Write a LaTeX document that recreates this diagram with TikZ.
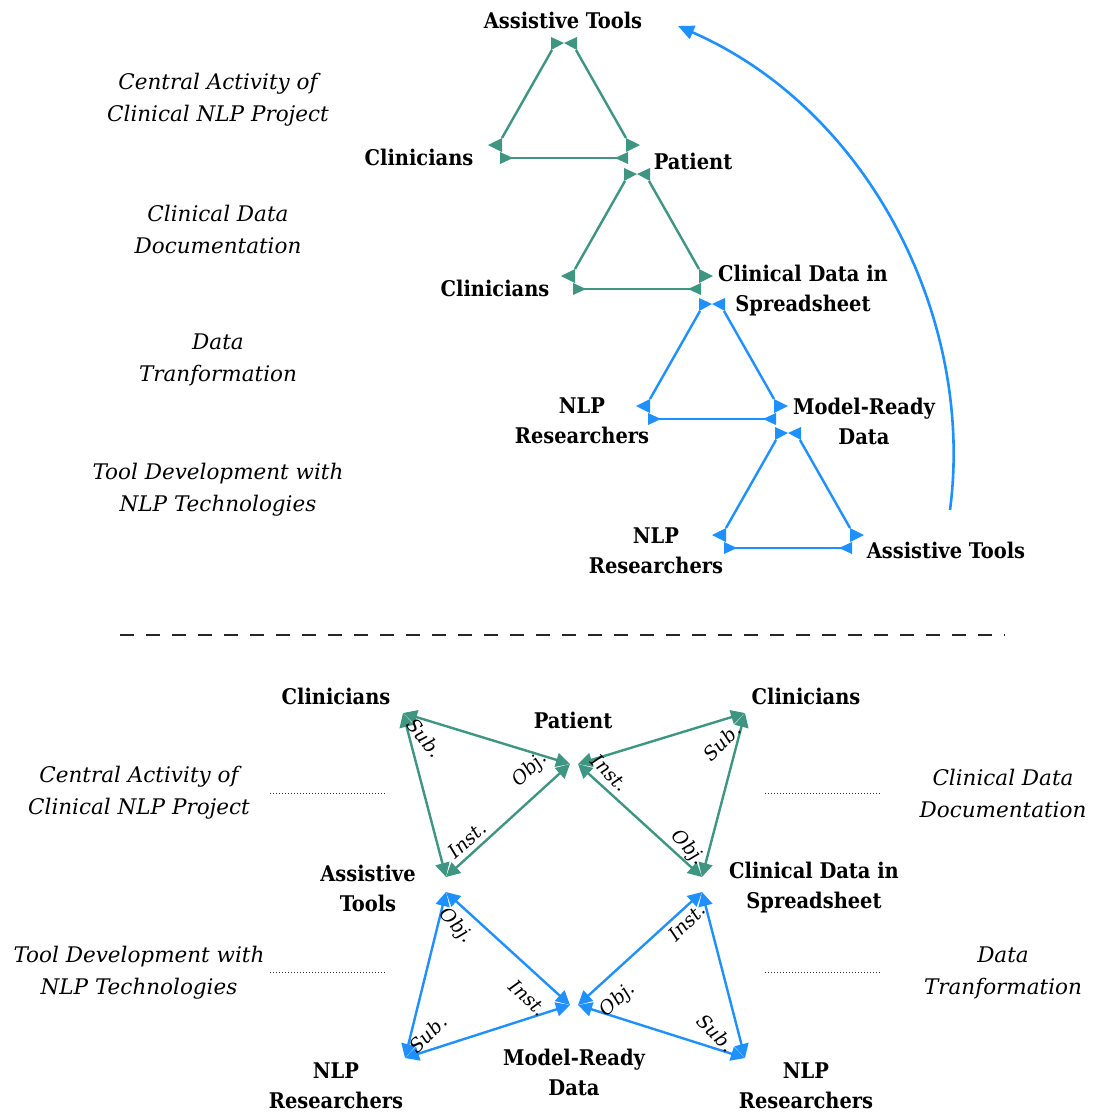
\documentclass[tikz,border=0pt]{standalone}
\usepackage{fontspec}
\setmainfont{DejaVu Serif}
\newfontfamily\labfont{DejaVu Serif Condensed}
\usetikzlibrary{arrows.meta,calc}
\definecolor{grn}{HTML}{3E9682}
\definecolor{blu}{HTML}{1E90FF}
\tikzset{
  lab/.style={font=\labfont\bfseries\fontsize{21.6}{30}\selectfont, align=center, inner sep=0pt},
  ital/.style={font=\itshape\fontsize{21.5}{32}\selectfont, align=center, inner sep=0pt},
  rl/.style={font=\itshape\fontsize{19}{20}\selectfont, inner sep=0pt},
  edge/.style={line width=2.4pt},
  bedge/.style={line width=2.4pt, {Triangle[length=14pt,width=14pt]}-{Triangle[length=14pt,width=14pt]}},
  dotline/.style={line width=0.9pt, dash pattern=on 1.4pt off 1.6pt, black!80},
  toptri/.pic={
    \coordinate (-t) at (0,0);
    \coordinate (-la) at (-12,7); \coordinate (-lb) at (-62,95);
    \coordinate (-ra) at (12,7);  \coordinate (-rb) at (62,95);
    \coordinate (-ha) at (-63,115); \coordinate (-hb) at (63,115);
    \draw[edge,#1] (-la) -- (-lb);
    \draw[edge,#1] (-ra) -- (-rb);
    \draw[edge,#1] (-ha) -- (-hb);
    \fill[#1] (-13,-6) -- (-13,7) -- (0,0) -- cycle;
    \fill[#1] (13,-6) -- (13,7) -- (0,0) -- cycle;
    \fill[#1] (-62,95) -- (-62,109) -- (-76,102) -- cycle;
    \fill[#1] (-64,109) -- (-64,121) -- (-51,115) -- cycle;
    \fill[#1] (62,95) -- (62,109) -- (76,102) -- cycle;
    \fill[#1] (64,109) -- (64,121) -- (51,115) -- cycle;
  }
}
\begin{document}
\begin{tikzpicture}[x=1pt,y=-1pt]
\useasboundingbox[fill=white] (0,0) rectangle (1095,1112);

% ---------- top part ----------
\pic (tA) at (564,43) {toptri=grn};
\pic (tB) at (637,174) {toptri=grn};
\pic (tC) at (712,304) {toptri=blu};
\pic (tD) at (788,433) {toptri=blu};

\coordinate (arcS) at (950,510);
\coordinate (arcE) at (678,26);
\draw[blu,line width=2.6pt,-{Triangle[length=16pt,width=14pt]}] (arcS) .. controls (975,320) and (870,110) .. (arcE);

\node[lab] (l1) at (563,20) {Assistive Tools};
\node[lab] (l2) at (419,157) {Clinicians};
\node[lab] (l3) at (693,161) {Patient};
\node[lab] (l4) at (495,288) {Clinicians};
\node[lab] (l5) at (803,291) {Clinical Data in\\Spreadsheet};
\node[lab] (l6) at (582,421) {NLP\\Researchers};
\node[lab] (l7) at (864,421) {Model-Ready\\Data};
\node[lab] (l8) at (656,551) {NLP\\Researchers};
\node[lab] (l9) at (946,550) {Assistive Tools};

\node[ital] (i1) at (218,100) {Central Activity of\\Clinical NLP Project};
\node[ital] (i2) at (218,229) {Clinical Data\\Documentation};
\node[ital] (i3) at (218,360) {Data\\Tranformation};
\node[ital] (i4) at (218,490) {Tool Development with\\NLP Technologies};

% ---------- separator ----------
\coordinate (sepL) at (120,635);
\coordinate (sepR) at (1005,635);
\draw[line width=1.8pt, dash pattern=on 14pt off 12pt, black!85] (sepL) -- (sepR);

% ---------- bottom part ----------
\coordinate (c1) at (403,713); \coordinate (p1) at (570,764); \coordinate (a1) at (446,877);
\coordinate (c2) at (745,713); \coordinate (p2) at (578,764); \coordinate (d2) at (702,877);
\coordinate (a3) at (446,892); \coordinate (m3) at (570,1005); \coordinate (n3) at (405,1058);
\coordinate (d4) at (702,892); \coordinate (m4) at (578,1005); \coordinate (n4) at (745,1058);

\draw[bedge,grn] (c1) -- (p1);
\draw[bedge,grn] (p1) -- (a1);
\draw[bedge,grn] (a1) -- (c1);
\draw[bedge,grn] (c2) -- (p2);
\draw[bedge,grn] (p2) -- (d2);
\draw[bedge,grn] (d2) -- (c2);
\draw[bedge,blu] (a3) -- (m3);
\draw[bedge,blu] (m3) -- (n3);
\draw[bedge,blu] (n3) -- (a3);
\draw[bedge,blu] (d4) -- (m4);
\draw[bedge,blu] (m4) -- (n4);
\draw[bedge,blu] (n4) -- (d4);

\node[rl,rotate=-50] (s1) at (425,738) {Sub.};
\node[rl,rotate=45]  (o1) at (530,770) {Obj.};
\node[rl,rotate=42]  (n1) at (467,840) {Inst.};
\node[rl,rotate=45]  (s2) at (722,742) {Sub.};
\node[rl,rotate=-45] (n2) at (610,773) {Inst.};
\node[rl,rotate=-48] (o2) at (688,848) {Obj.};
\node[rl,rotate=-48] (o3) at (456,926) {Obj.};
\node[rl,rotate=-43] (n3l) at (528,998) {Inst.};
\node[rl,rotate=45]  (s3) at (428,1034) {Sub.};
\node[rl,rotate=45]  (n4l) at (687,922) {Inst.};
\node[rl,rotate=43]  (o4) at (618,1000) {Obj.};
\node[rl,rotate=-45] (s4) at (716,1033) {Sub.};

\node[lab] (b1) at (336,696) {Clinicians};
\node[lab] (b2) at (573,720) {Patient};
\node[lab] (b3) at (806,696) {Clinicians};
\node[lab] (b4) at (368,888) {Assistive\\Tools};
\node[lab] (b5) at (814,888) {Clinical Data in\\Spreadsheet};
\node[lab] (b6) at (574,1072) {Model-Ready\\Data};
\node[lab] (b7) at (336,1086) {NLP\\Researchers};
\node[lab] (b8) at (806,1086) {NLP\\Researchers};

\node[ital] (j1) at (139,793) {Central Activity of\\Clinical NLP Project};
\node[ital] (j2) at (1003,793) {Clinical Data\\Documentation};
\node[ital] (j3) at (139,973) {Tool Development with\\NLP Technologies};
\node[ital] (j4) at (1003,973) {Data\\Tranformation};

\coordinate (d1a) at (270,793); \coordinate (d1b) at (385,793);
\coordinate (d2a) at (765,793); \coordinate (d2b) at (880,793);
\coordinate (d3a) at (270,972); \coordinate (d3b) at (385,972);
\coordinate (d4a) at (765,972); \coordinate (d4b) at (880,972);
\draw[dotline] (d1a) -- (d1b);
\draw[dotline] (d2a) -- (d2b);
\draw[dotline] (d3a) -- (d3b);
\draw[dotline] (d4a) -- (d4b);
\end{tikzpicture}
\end{document}
